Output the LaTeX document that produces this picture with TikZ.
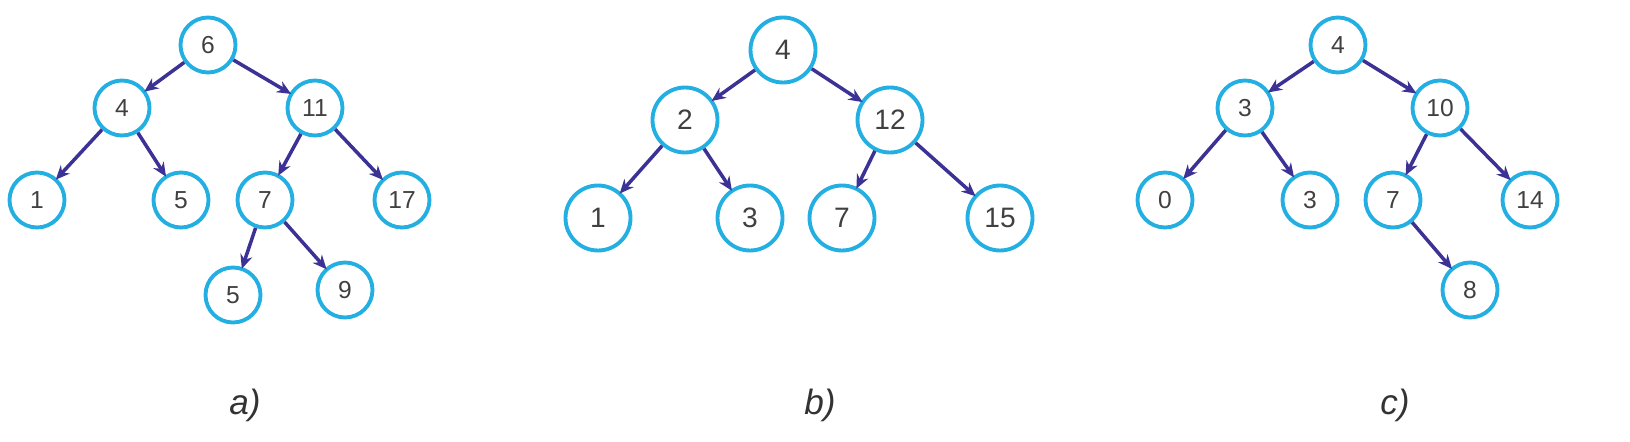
\documentclass[tikz,border=0pt]{standalone}
\usepackage{fontspec}
\setmainfont{Liberation Sans}
\usetikzlibrary{arrows.meta}
\definecolor{ringblue}{RGB}{35,175,225}
\definecolor{edgeblue}{RGB}{60,50,150}

\begin{document}
\begin{tikzpicture}[
    x=0.02cm, y=-0.02cm,
    >={Stealth[length=8pt, width=7pt]},
    vtx/.style={draw=ringblue, line width=2.2pt, circle, minimum size=1.1cm, inner sep=0pt, font=\fontsize{14}{16}\selectfont, text=black!75},
    bvtx/.style={vtx, minimum size=1.3cm, font=\fontsize{16}{18}\selectfont},
    edge/.style={->, draw=edgeblue, line width=2pt, shorten >=-1pt},
    label text/.style={font=\fontsize{20}{24}\selectfont\itshape, text=black!80}
]
    \useasboundingbox (0,0) rectangle (1630,442);

    % Tree a)
    \node[vtx] (a6) at (208,45) {6};
    \node[vtx] (a4) at (122,108) {4};
    \node[vtx] (a11) at (315,108) {11};
    \node[vtx] (a1) at (37,200) {1};
    \node[vtx] (a5) at (181,200) {5};
    \node[vtx] (a7) at (265,200) {7};
    \node[vtx] (a17) at (402,200) {17};
    \node[vtx] (a5b) at (233,295) {5};
    \node[vtx] (a9) at (345,290) {9};
    \foreach \p/\c in {a6/a4, a6/a11, a4/a1, a4/a5, a11/a7, a11/a17, a7/a5b, a7/a9}
        \draw[edge] (\p) -- (\c);
    \node[label text] (capa) at (245,405) {a)};

    % Tree b)
    \node[bvtx] (b4) at (783,50) {4};
    \node[bvtx] (b2) at (685,120) {2};
    \node[bvtx] (b12) at (890,120) {12};
    \node[bvtx] (b1) at (598,218) {1};
    \node[bvtx] (b3) at (750,218) {3};
    \node[bvtx] (b7) at (842,218) {7};
    \node[bvtx] (b15) at (1000,218) {15};
    \foreach \p/\c in {b4/b2, b4/b12, b2/b1, b2/b3, b12/b7, b12/b15}
        \draw[edge] (\p) -- (\c);
    \node[label text] (capb) at (820,405) {b)};

    % Tree c)
    \node[vtx] (c4) at (1338,45) {4};
    \node[vtx] (c3) at (1245,108) {3};
    \node[vtx] (c10) at (1440,108) {10};
    \node[vtx] (c0) at (1165,200) {0};
    \node[vtx] (c3b) at (1310,200) {3};
    \node[vtx] (c7) at (1393,200) {7};
    \node[vtx] (c14) at (1530,200) {14};
    \node[vtx] (c8) at (1470,290) {8};
    \foreach \p/\c in {c4/c3, c4/c10, c3/c0, c3/c3b, c10/c7, c10/c14, c7/c8}
        \draw[edge] (\p) -- (\c);
    \node[label text] (capc) at (1395,405) {c)};

\end{tikzpicture}
\end{document}
